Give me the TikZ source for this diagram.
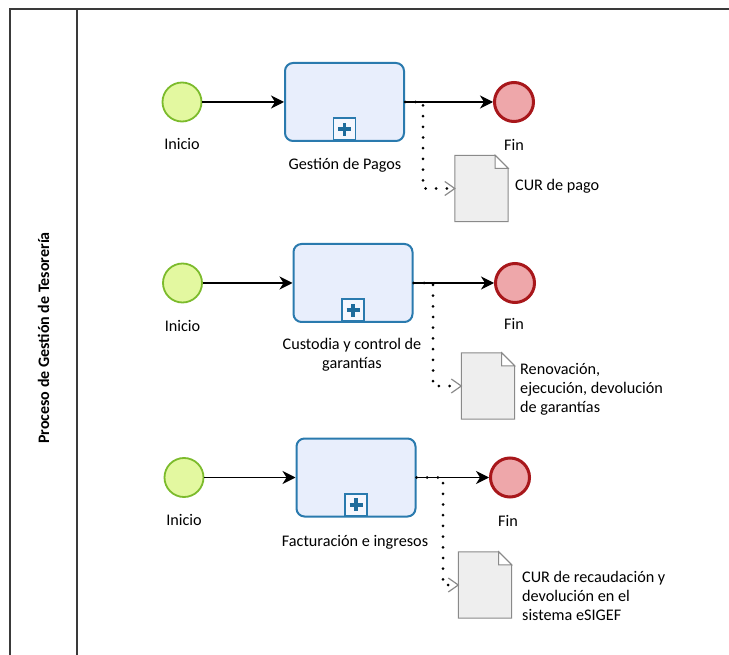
\documentclass[tikz,border=0pt]{standalone}
\usepackage{fontspec}
\setmainfont{Carlito}
\usetikzlibrary{arrows.meta}
\definecolor{poolline}{HTML}{3A3A3A}
\definecolor{startfill}{HTML}{E3F8A0}
\definecolor{startdraw}{HTML}{7CBB2C}
\definecolor{endfill}{HTML}{EEA7AA}
\definecolor{enddraw}{HTML}{A8171B}
\definecolor{taskfill}{HTML}{E8EEFC}
\definecolor{taskdraw}{HTML}{2A7AAE}
\definecolor{plusc}{HTML}{1F6C9C}
\definecolor{docfill}{HTML}{EEEEEE}
\definecolor{docdraw}{HTML}{8A8A8A}
\begin{document}
\begin{tikzpicture}[x=1pt,y=-1pt,
  font=\fontsize{16.2}{19}\selectfont,
  startev/.style={circle, draw=startdraw, fill=startfill, line width=1.8pt, minimum size=39pt, inner sep=0pt},
  endev/.style={circle, draw=enddraw, fill=endfill, line width=3pt, minimum size=39pt, inner sep=0pt},
  task/.style={draw=taskdraw, fill=taskfill, line width=2pt, rounded corners=8pt, minimum width=119pt, minimum height=78pt, inner sep=0pt},
  marker/.style={draw=taskdraw, fill=white!55!taskfill, line width=1.8pt, minimum size=22pt, inner sep=0pt, anchor=south},
  plus/.style={draw=plusc, line width=3.8pt},
  docnode/.style={minimum width=53pt, minimum height=66pt, inner sep=0pt},
  docshape/.style={draw=docdraw, fill=docfill, line width=1pt, line join=miter},
  chev/.style={draw=docdraw, line width=1.2pt},
  lbl/.style={inner sep=0pt, align=center, anchor=base},
  dlbl/.style={inner sep=0pt, align=left, anchor=base west},
  seq/.style={line width=1.3pt, -{Stealth[length=13pt,width=13pt,inset=4pt]}},
  assoc/.style={line width=3pt, line cap=round, dash pattern=on 0pt off 10.7pt},
  pool/.style={draw=poolline, line width=1.5pt}
]
\useasboundingbox (0,0) rectangle (729,655);
\fill[white] (0,0) rectangle (729,655);

% pool
\draw[pool] (729,9) -- (10,9) -- (10,655);
\draw[pool] (77,9) -- (77,655);
\node[rotate=90, inner sep=0pt, font=\fontsize{16}{19}\selectfont\bfseries] (title) at (43.5,338) {Proceso de Gestión de Tesorería};

% row 1
\node[startev] (s1) at (182,102) {};
\node[task] (t1) at (344.5,102) {};
\node[marker] (m1) at ([yshift=1pt]t1.south) {};
\draw[plus] ([xshift=-6.5pt]m1.center) -- ([xshift=6.5pt]m1.center);
\draw[plus] ([yshift=-6.5pt]m1.center) -- ([yshift=6.5pt]m1.center);
\node[endev] (e1) at (514,102) {};
\node[docnode] (d1) at (481.5,188.5) {};
\coordinate (c1) at (423,188.5);
\node[lbl] (ls1) at (182,150) {Inicio};
\node[lbl] (lt1) at (345,170) {Gestión de Pagos};
\node[lbl] (le1) at (514,151) {Fin};
\node[dlbl] (ld1) at (515,191) {CUR de pago};

% row 2
\node[startev] (s2) at (182.5,283) {};
\node[task] (t2) at (353,283) {};
\node[marker] (m2) at ([yshift=1pt]t2.south) {};
\draw[plus] ([xshift=-6.5pt]m2.center) -- ([xshift=6.5pt]m2.center);
\draw[plus] ([yshift=-6.5pt]m2.center) -- ([yshift=6.5pt]m2.center);
\node[endev] (e2) at (515,283) {};
\node[docnode] (d2) at (488,386) {};
\coordinate (c2) at (433,386);
\node[lbl] (ls2) at (182.5,331) {Inicio};
\node[lbl] (lt2) at (352,369) {Custodia y control de\\garantías};
\node[lbl] (le2) at (514,330) {Fin};
\node[dlbl] (ld2) at (520,412) {Renovación,\\ejecución, devolución\\de garantías};

% row 3
\node[startev] (s3) at (184,477.5) {};
\node[task] (t3) at (356,477.5) {};
\node[marker] (m3) at ([yshift=1pt]t3.south) {};
\draw[plus] ([xshift=-6.5pt]m3.center) -- ([xshift=6.5pt]m3.center);
\draw[plus] ([yshift=-6.5pt]m3.center) -- ([yshift=6.5pt]m3.center);
\node[endev] (e3) at (510,477.5) {};
\node[docnode] (d3) at (485,585) {};
\coordinate (c3) at (443,585);
\node[lbl] (ls3) at (184,525) {Inicio};
\node[lbl] (lt3) at (355,546) {Facturación e ingresos};
\node[lbl] (le3) at (508,526) {Fin};
\node[dlbl] (ld3) at (522,620) {CUR de recaudación y\\devolución en el\\sistema eSIGEF};

% documents, flows, associations
\foreach \d in {d1,d2,d3}{
  \draw[docshape] (\d.south west) -- (\d.north west) -- ([xshift=-13pt]\d.north east)
     -- ([yshift=-13pt]\d.north east) -- (\d.south east) -- cycle;
  \draw[docshape, fill=white] ([xshift=-13pt]\d.north east) -- ([xshift=-13pt,yshift=-13pt]\d.north east)
     -- ([yshift=-13pt]\d.north east) -- cycle;
}
\foreach \i in {1,2,3}{
  \draw[seq] (s\i) -- (t\i);
  \draw[seq] (t\i) -- (e\i);
  \draw[assoc] (t\i.east) -| (c\i) -- ([xshift=-4pt]d\i.west);
  \draw[chev] ([xshift=-10pt,yshift=7pt]d\i.west) -- (d\i.west) -- ([xshift=-10pt,yshift=-7pt]d\i.west);
}
\end{tikzpicture}
\end{document}
